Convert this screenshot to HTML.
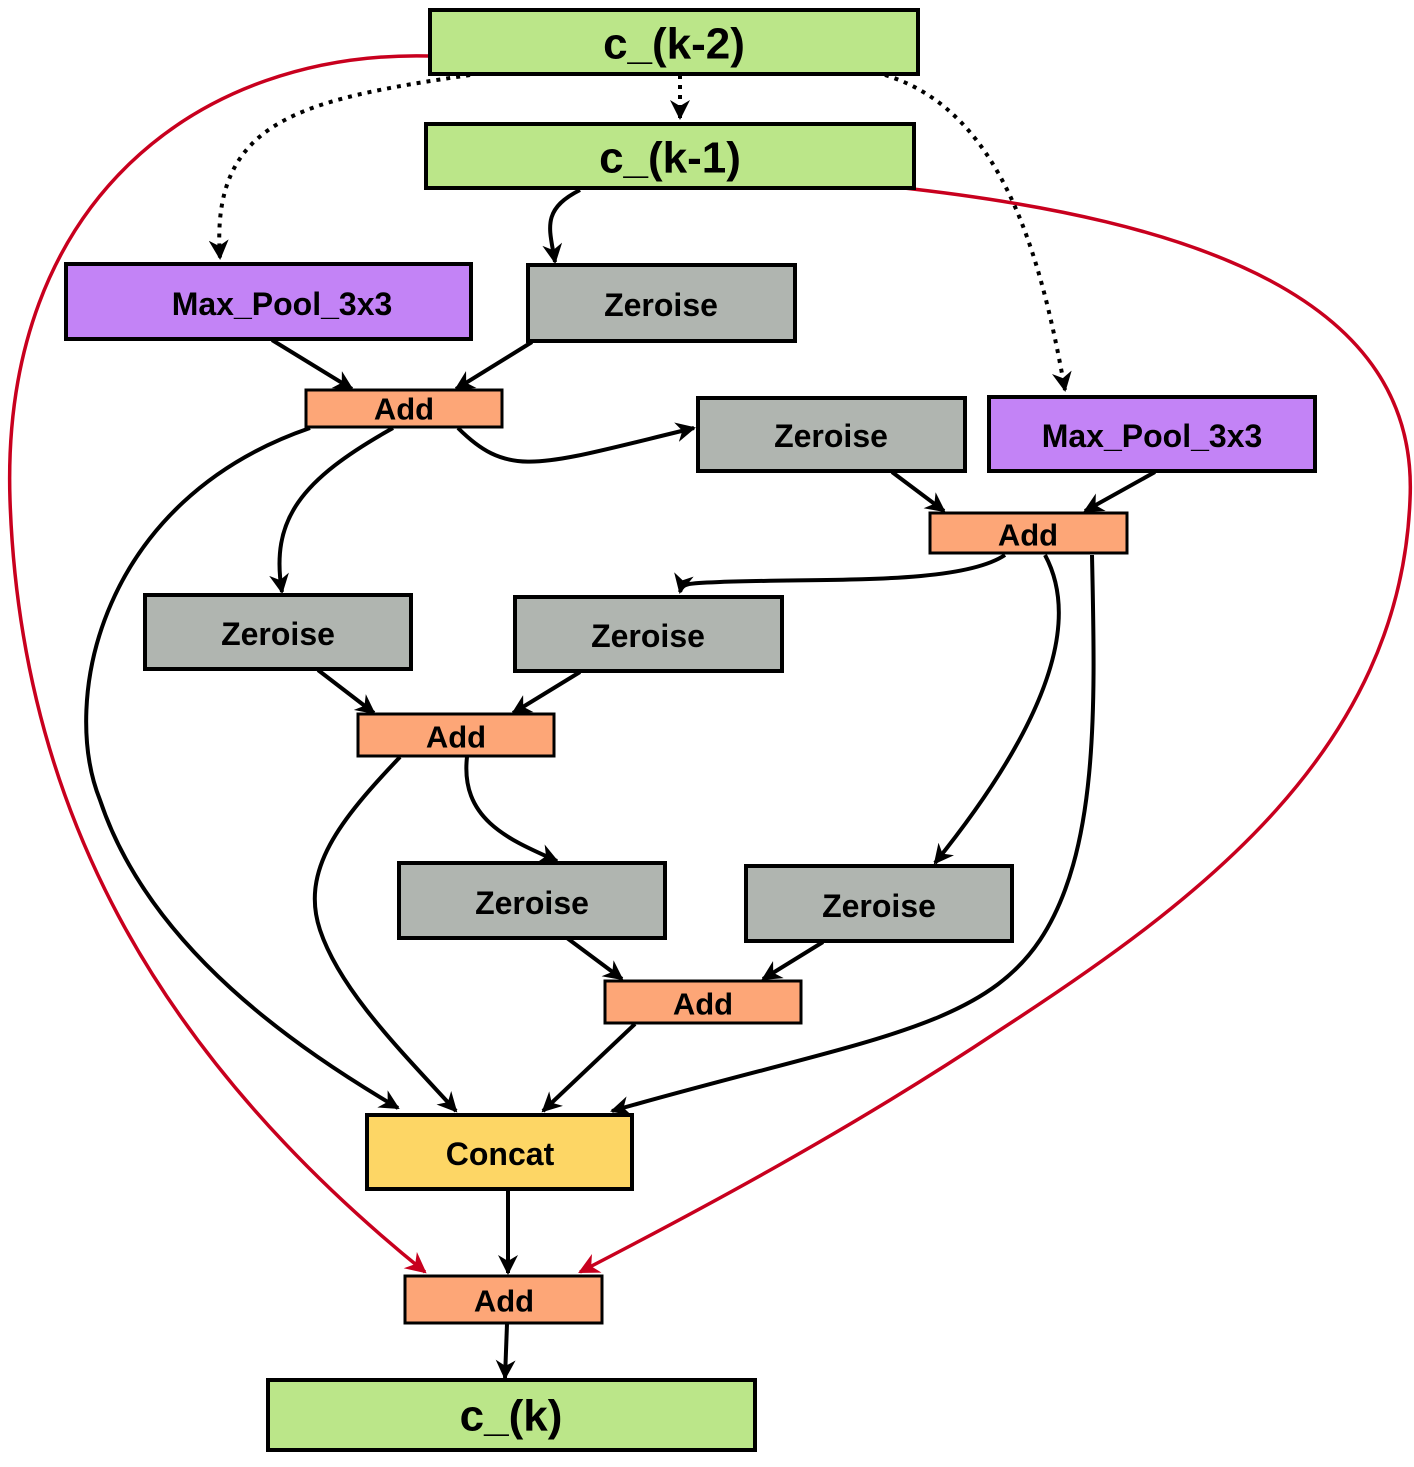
<!DOCTYPE html>
<html><head><meta charset="utf-8"><style>
html,body{margin:0;padding:0;background:#fff}
svg{display:block}
text{font-family:"Liberation Sans",sans-serif;font-weight:bold;fill:#000;text-anchor:middle;dominant-baseline:central}
</style></head><body>
<svg width="1414" height="1467" viewBox="0 0 1414 1467" xmlns="http://www.w3.org/2000/svg">
<defs>
<marker id="ab" viewBox="0 0 10 10" refX="9" refY="5" markerWidth="5" markerHeight="5" orient="auto" markerUnits="strokeWidth"><path d="M0,0 L10,5 L0,10 L3,5 z" fill="#000"/></marker>
<marker id="ar" viewBox="0 0 10 10" refX="9" refY="5" markerWidth="6" markerHeight="6" orient="auto" markerUnits="strokeWidth"><path d="M0,0 L10,5 L0,10 L3,5 z" fill="#c8001e"/></marker>
</defs>
<g fill="none" stroke="#c8001e" stroke-width="3.5">
<path d="M430,56 C200,50 0,200 10,500 C20,800 150,1050 425,1272" marker-end="url(#ar)"/>
<path d="M895,187 C1200,220 1420,300 1410,500 C1400,750 1200,900 1000,1030 C850,1130 700,1210 580,1272" marker-end="url(#ar)"/>
</g>
<g fill="none" stroke="#000" stroke-width="4">
<g stroke-dasharray="4,6">
<path d="M470,75 C300,100 210,120 220,258" marker-end="url(#ab)"/>
<path d="M680,75 L680,118" marker-end="url(#ab)"/>
<path d="M885,75 C1000,110 1040,250 1065,390" marker-end="url(#ab)"/>
</g>
<path d="M580,190 C540,210 550,230 555,262" marker-end="url(#ab)"/>
<path d="M272,340 L352,389" marker-end="url(#ab)"/>
<path d="M532,342 L456,389" marker-end="url(#ab)"/>
<path d="M458,428 C510,480 540,465 694,428" marker-end="url(#ab)"/>
<path d="M393,428 C300,480 270,520 282,592" marker-end="url(#ab)"/>
<path d="M310,428 C100,500 60,700 100,800 C150,950 300,1050 398,1108" marker-end="url(#ab)"/>
<path d="M892,472 L944,511" marker-end="url(#ab)"/>
<path d="M1155,472 L1085,511" marker-end="url(#ab)"/>
<path d="M1005,555 C960,585 830,578 720,582 C690,583 682,583 680,592" marker-end="url(#ab)"/>
<path d="M1045,555 C1080,620 1050,720 935,863" marker-end="url(#ab)"/>
<path d="M1092,555 C1095,700 1100,850 1040,940 C980,1030 860,1040 612,1111" marker-end="url(#ab)"/>
<path d="M318,670 L374,713" marker-end="url(#ab)"/>
<path d="M580,672 L513,713" marker-end="url(#ab)"/>
<path d="M400,757 C340,820 300,870 320,930 C340,990 400,1050 456,1111" marker-end="url(#ab)"/>
<path d="M467,757 C460,820 510,840 557,861" marker-end="url(#ab)"/>
<path d="M567,938 L622,979" marker-end="url(#ab)"/>
<path d="M823,942 L763,979" marker-end="url(#ab)"/>
<path d="M635,1024 L543,1111" marker-end="url(#ab)"/>
<path d="M508,1190 L508,1273" marker-end="url(#ab)"/>
<path d="M507,1324 L505,1378" marker-end="url(#ab)"/>
</g>
<g stroke="#000" stroke-width="4">
<rect x="430" y="10" width="488" height="64" fill="#bbe689"/>
<rect x="426" y="124" width="488" height="64" fill="#bbe689"/>
<rect x="66" y="264" width="405" height="75" fill="#c383f6"/>
<rect x="528" y="265" width="267" height="76" fill="#b0b5b0"/>
<rect x="698" y="398" width="267" height="73" fill="#b0b5b0"/>
<rect x="989" y="397" width="326" height="74" fill="#c383f6"/>
<rect x="145" y="595" width="266" height="74" fill="#b0b5b0"/>
<rect x="515" y="597" width="267" height="74" fill="#b0b5b0"/>
<rect x="399" y="863" width="266" height="75" fill="#b0b5b0"/>
<rect x="746" y="866" width="266" height="75" fill="#b0b5b0"/>
<rect x="367" y="1115" width="265" height="74" fill="#fdd665"/>
<rect x="268" y="1380" width="487" height="70" fill="#bbe689"/>
</g>
<g stroke="#000" stroke-width="3" fill="#fda677">
<rect x="306" y="390" width="196" height="37"/>
<rect x="930" y="513" width="197" height="40"/>
<rect x="358" y="714" width="196" height="42"/>
<rect x="605" y="981" width="196" height="42"/>
<rect x="405" y="1276" width="197" height="47"/>
</g>
<g font-size="44">
<text x="674" y="44">c_(k-2)</text>
<text x="670" y="158">c_(k-1)</text>
<text x="511" y="1416">c_(k)</text>
</g>
<g font-size="32">
<text x="282" y="304">Max_Pool_3x3</text>
<text x="661" y="305">Zeroise</text>
<text x="831" y="436">Zeroise</text>
<text x="1152" y="436">Max_Pool_3x3</text>
<text x="278" y="634">Zeroise</text>
<text x="648" y="636">Zeroise</text>
<text x="532" y="903">Zeroise</text>
<text x="879" y="906">Zeroise</text>
<text x="500" y="1154">Concat</text>
</g>
<g font-size="31">
<text x="404" y="409">Add</text>
<text x="1028" y="535">Add</text>
<text x="456" y="737">Add</text>
<text x="703" y="1004">Add</text>
<text x="504" y="1301">Add</text>
</g>
</svg>
</body></html>
